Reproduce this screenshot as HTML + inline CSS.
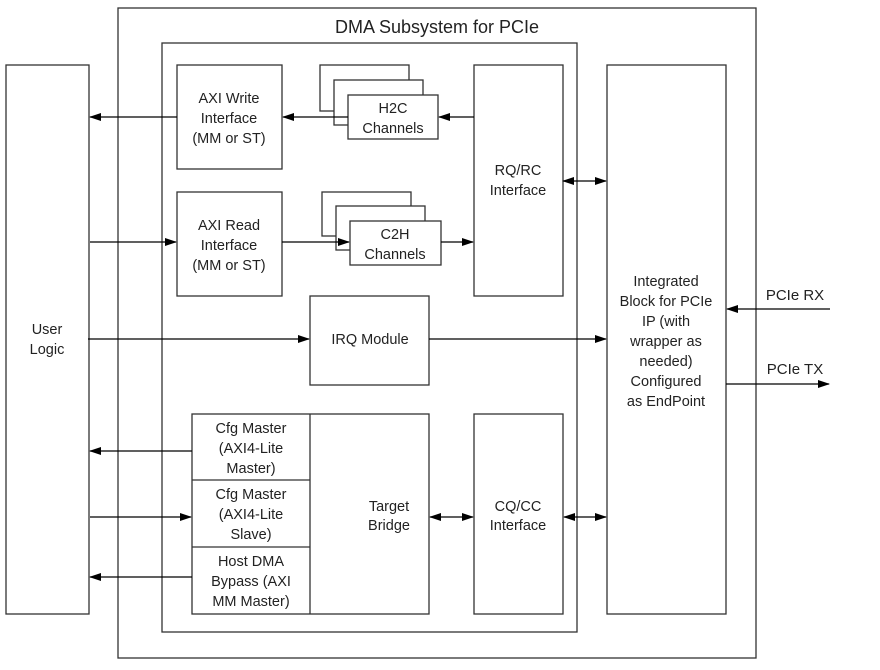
<!DOCTYPE html>
<html><head><meta charset="utf-8"><style>
html,body{margin:0;padding:0;background:#fff;}
svg{display:block;}
text{font-family:"Liberation Sans",Arial,sans-serif;font-size:14.5px;fill:#222;text-anchor:middle;}
</style></head><body>
<svg width="880" height="670" viewBox="0 0 880 670" xmlns="http://www.w3.org/2000/svg">
<defs>
<marker id="a" markerWidth="12" markerHeight="8" refX="11" refY="4" orient="auto" markerUnits="userSpaceOnUse"><path d="M0,0 L12,4 L0,8 Z" fill="#000"/></marker>
<marker id="b" markerWidth="12" markerHeight="8" refX="1" refY="4" orient="auto" markerUnits="userSpaceOnUse"><path d="M12,0 L0,4 L12,8 Z" fill="#000"/></marker>
</defs>
<g fill="#fff" stroke="#333" stroke-width="1.3">
<rect x="118" y="8" width="638" height="650"/>
<rect x="162" y="43" width="415" height="589"/>
<rect x="6" y="65" width="83" height="549"/>
<rect x="177" y="65" width="105" height="104"/>
<rect x="177" y="192" width="105" height="104"/>
<rect x="320" y="65" width="89" height="46"/>
<rect x="334" y="80" width="89" height="45"/>
<rect x="348" y="95" width="90" height="44"/>
<rect x="322" y="192" width="89" height="44"/>
<rect x="336" y="206" width="89" height="44"/>
<rect x="350" y="221" width="91" height="44"/>
<rect x="474" y="65" width="89" height="231"/>
<rect x="310" y="296" width="119" height="89"/>
<rect x="192" y="414" width="237" height="200"/>
<rect x="474" y="414" width="89" height="200"/>
<rect x="607" y="65" width="119" height="549"/>
</g>
<g stroke="#333" stroke-width="1.3">
<line x1="310" y1="414" x2="310" y2="614"/>
<line x1="192" y1="480" x2="310" y2="480"/>
<line x1="192" y1="547" x2="310" y2="547"/>
</g>
<g stroke="#000" stroke-width="1.2" fill="none">
<line x1="177" y1="117" x2="90" y2="117" marker-end="url(#a)"/>
<line x1="348" y1="117" x2="283" y2="117" marker-end="url(#a)"/>
<line x1="474" y1="117" x2="439" y2="117" marker-end="url(#a)"/>
<line x1="90" y1="242" x2="176" y2="242" marker-end="url(#a)"/>
<line x1="282" y1="242" x2="349" y2="242" marker-end="url(#a)"/>
<line x1="441" y1="242" x2="473" y2="242" marker-end="url(#a)"/>
<line x1="563" y1="181" x2="606" y2="181" marker-start="url(#b)" marker-end="url(#a)"/>
<line x1="88" y1="339" x2="309" y2="339" marker-end="url(#a)"/>
<line x1="429" y1="339" x2="606" y2="339" marker-end="url(#a)"/>
<line x1="192" y1="451" x2="90" y2="451" marker-end="url(#a)"/>
<line x1="90" y1="517" x2="191" y2="517" marker-end="url(#a)"/>
<line x1="192" y1="577" x2="90" y2="577" marker-end="url(#a)"/>
<line x1="430" y1="517" x2="473" y2="517" marker-start="url(#b)" marker-end="url(#a)"/>
<line x1="564" y1="517" x2="606" y2="517" marker-start="url(#b)" marker-end="url(#a)"/>
<line x1="830" y1="309" x2="727" y2="309" marker-end="url(#a)"/>
<line x1="726" y1="384" x2="829" y2="384" marker-end="url(#a)"/>
</g>
<text x="437" y="33" style="font-size:18px">DMA Subsystem for PCIe</text>
<text x="229" y="103">AXI Write</text><text x="229" y="123">Interface</text><text x="229" y="143">(MM or ST)</text>
<text x="229" y="230">AXI Read</text><text x="229" y="250">Interface</text><text x="229" y="270">(MM or ST)</text>
<text x="393" y="113">H2C</text><text x="393" y="133">Channels</text>
<text x="395" y="239">C2H</text><text x="395" y="259">Channels</text>
<text x="518" y="175">RQ/RC</text><text x="518" y="195">Interface</text>
<text x="47" y="334">User</text><text x="47" y="354">Logic</text>
<text x="370" y="344">IRQ Module</text>
<text x="251" y="433">Cfg Master</text><text x="251" y="453">(AXI4-Lite</text><text x="251" y="473">Master)</text>
<text x="251" y="499">Cfg Master</text><text x="251" y="519">(AXI4-Lite</text><text x="251" y="539">Slave)</text>
<text x="251" y="566">Host DMA</text><text x="251" y="586">Bypass (AXI</text><text x="251" y="606">MM Master)</text>
<text x="389" y="511">Target</text><text x="389" y="530">Bridge</text>
<text x="518" y="511">CQ/CC</text><text x="518" y="530">Interface</text>
<text x="666" y="286">Integrated</text><text x="666" y="306">Block for PCIe</text><text x="666" y="326">IP (with</text><text x="666" y="346">wrapper as</text><text x="666" y="366">needed)</text><text x="666" y="386">Configured</text><text x="666" y="406">as EndPoint</text>
<text x="795" y="300" style="font-size:15px">PCIe RX</text>
<text x="795" y="374" style="font-size:15px">PCIe TX</text>
</svg>
</body></html>
